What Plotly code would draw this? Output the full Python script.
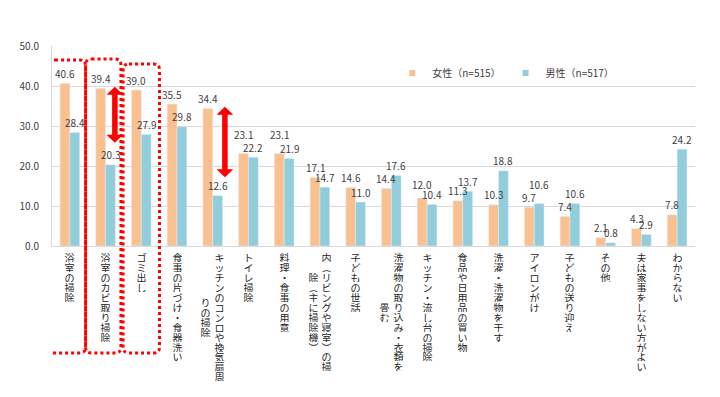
import plotly.graph_objects as go

# ---------------- data ----------------
categories = [
    "浴室の掃除",
    "浴室のカビ取り掃除",
    "ゴミ出し",
    "食事の片づけ・食器洗い",
    "キッチンのコンロや換気扇周|りの掃除",
    "トイレ掃除",
    "料理・食事の用意",
    "内（リビングや寝室）の掃|除（主に掃除機）",
    "子どもの世話",
    "洗濯物の取り込み・衣類を|畳む",
    "キッチン・流し台の掃除",
    "食品や日用品の買い物",
    "洗濯・洗濯物を干す",
    "アイロンがけ",
    "子どもの送り迎え",
    "その他",
    "夫は家事をしない方がよい",
    "わからない",
]
female = [40.6, 39.4, 39.0, 35.5, 34.4, 23.1, 23.1, 17.1, 14.6, 14.4,
          12.0, 11.3, 10.3, 9.7, 7.4, 2.1, 4.3, 7.8]
male = [28.4, 20.3, 27.9, 29.8, 12.6, 22.2, 21.9, 14.7, 11.0, 17.6,
        10.4, 13.7, 18.8, 10.6, 10.6, 0.8, 2.9, 24.2]
series_names = ["女性（n=515）", "男性（n=517）"]
y_ticks = [0, 10, 20, 30, 40, 50]
highlight_cats = [0, 1, 2]      # dotted red frames
arrow_cats = [1, 4]             # red double arrows

# ---------------- styling ----------------
C_F = "#FAC090"
C_M = "#92CDDC"
RED = "#FF0000"
TXT = "#404040"
FONT = "Noto Sans CJK JP"

# page body has an 8px margin -> shrink figure so the plot lands where
# the reference has it
BODY = 8
W, H = 720 - BODY, 397 - BODY
PLOT_L, PLOT_T, PLOT_R, PLOT_B = 43, 46, 695, 246   # reference pixels
ML, MT = PLOT_L - BODY, PLOT_T - BODY
PW, PH = PLOT_R - PLOT_L, PLOT_B - PLOT_T
MR, MB = W - ML - PW, H - MT - PH
n = len(categories)
x = list(range(n))
CAT_PX = PW / n
BAR_W = (1 - 0.45) / 2

fig = go.Figure()
fig.add_trace(go.Bar(x=x, y=female, name=series_names[0], marker_color=C_F,
                     showlegend=False))
fig.add_trace(go.Bar(x=x, y=male, name=series_names[1], marker_color=C_M,
                     showlegend=False))
# legend entries with small square markers
for nm, col in zip(series_names, [C_F, C_M]):
    fig.add_trace(go.Scatter(
        x=[None], y=[None], mode="markers", name=nm,
        marker=dict(symbol="square", size=6, color=col),
    ))


def px_to_paper(py):
    return (PLOT_B - py) / PH


annotations = []

# ---------------- value labels ----------------
label_raise_f = {5: 9, 6: 9, 10: 4}
label_raise_m = {13: 9}
for vals, sign, raise_ in [(female, -1, label_raise_f), (male, 1, label_raise_m)]:
    for i, v in enumerate(vals):
        annotations.append(dict(
            x=i + sign * BAR_W / 2, xref="x", y=v, yref="y",
            text=f"{v:.1f}", showarrow=False, xanchor="center",
            yanchor="middle", yshift=10 + raise_.get(i, 0),
            font=dict(size=10, color=TXT, family=FONT),
        ))

# ---------------- vertical (tategaki) category labels ----------------
VMAP = {"（": "︵", "）": "︶"}
PITCH = 9.9          # px between stacked characters
TOP = 253            # px, top of first character
COL_OFF = 7.0 / CAT_PX   # column offset in category units

for i, lab in enumerate(categories):
    cols = lab.split("|")
    n1 = len(cols[0])
    for c, col in enumerate(cols):
        if len(cols) == 1:
            xo = 0.0
        else:
            xo = COL_OFF if c == 0 else -COL_OFF
        y0 = TOP + (n1 - len(col)) * PITCH / 2.0
        for k, ch in enumerate(col):
            cy = y0 + PITCH * k + PITCH / 2.0
            annotations.append(dict(
                x=i + xo, xref="x", y=px_to_paper(cy), yref="paper",
                text=VMAP.get(ch, ch), showarrow=False,
                xanchor="center", yanchor="middle",
                height=9, width=11, borderpad=0,
                font=dict(size=10, color="#262626", family=FONT),
            ))

# ---------------- red decorations ----------------
shapes = []
rx = 6.0 / CAT_PX
ry = 6.0 / PH
frame_spans = [(-0.58, 0.44, 60), (0.44, 1.43, 59), (1.49, 2.51, 64)]
for ci, (x0, x1, top_px) in zip(highlight_cats, frame_spans):
    yt = px_to_paper(top_px)
    yb = px_to_paper(353)
    path = (f"M{x0 + rx},{yt} L{x1 - rx},{yt} Q{x1},{yt} {x1},{yt - ry} "
            f"L{x1},{yb + ry} Q{x1},{yb} {x1 - rx},{yb} "
            f"L{x0 + rx},{yb} Q{x0},{yb} {x0},{yb + ry} "
            f"L{x0},{yt - ry} Q{x0},{yt} {x0 + rx},{yt} Z")
    shapes.append(dict(type="path", path=path, xref="x", yref="paper",
                       line=dict(color=RED, width=3, dash="dot"),
                       layer="above"))

arrow_specs = [(1.26, 39.8, 25.8), (4.34, 34.8, 17.2)]
hw = 8.5 / CAT_PX        # head half-width
sw = 2.8 / CAT_PX        # shaft half-width
hh = 8.0 / (PH / 50.0)   # head height in data units
for ax_, yt, yb in arrow_specs:
    pts = [(ax_, yt), (ax_ + hw, yt - hh), (ax_ + sw, yt - hh),
           (ax_ + sw, yb + hh), (ax_ + hw, yb + hh), (ax_, yb),
           (ax_ - hw, yb + hh), (ax_ - sw, yb + hh), (ax_ - sw, yt - hh),
           (ax_ - hw, yt - hh)]
    path = "M" + " L".join(f"{px},{py}" for px, py in pts) + " Z"
    shapes.append(dict(type="path", path=path, xref="x", yref="y",
                       fillcolor=RED, line=dict(width=0), layer="above"))

fig.update_layout(
    width=W, height=H,
    margin=dict(l=ML, r=MR, t=MT, b=MB, pad=0),
    paper_bgcolor="white", plot_bgcolor="white",
    font=dict(family=FONT, size=10, color=TXT),
    barmode="group", bargap=0.45, bargroupgap=0,
    showlegend=True,
    legend=dict(orientation="h", x=(388 - PLOT_L) / PW, y=px_to_paper(73),
                xanchor="left", yanchor="middle", bgcolor="rgba(0,0,0,0)",
                font=dict(size=10, color=TXT, family=FONT),
                itemwidth=30),
    xaxis=dict(range=[-0.5, n - 0.5], showticklabels=False, showgrid=False,
               zeroline=False, showline=True, linecolor="#D9D9D9",
               linewidth=1, ticks="", fixedrange=True),
    yaxis=dict(range=[0, 50], tickvals=y_ticks,
               ticktext=[f"{v:.1f}" for v in y_ticks],
               showgrid=True, gridcolor="#D9D9D9", gridwidth=1,
               zeroline=False, showline=True, linecolor="#D9D9D9",
               ticks="", ticklabelstandoff=10,
               tickfont=dict(size=10, color=TXT, family=FONT)),
    annotations=annotations,
    shapes=shapes,
)

fig.write_html("out.html")
